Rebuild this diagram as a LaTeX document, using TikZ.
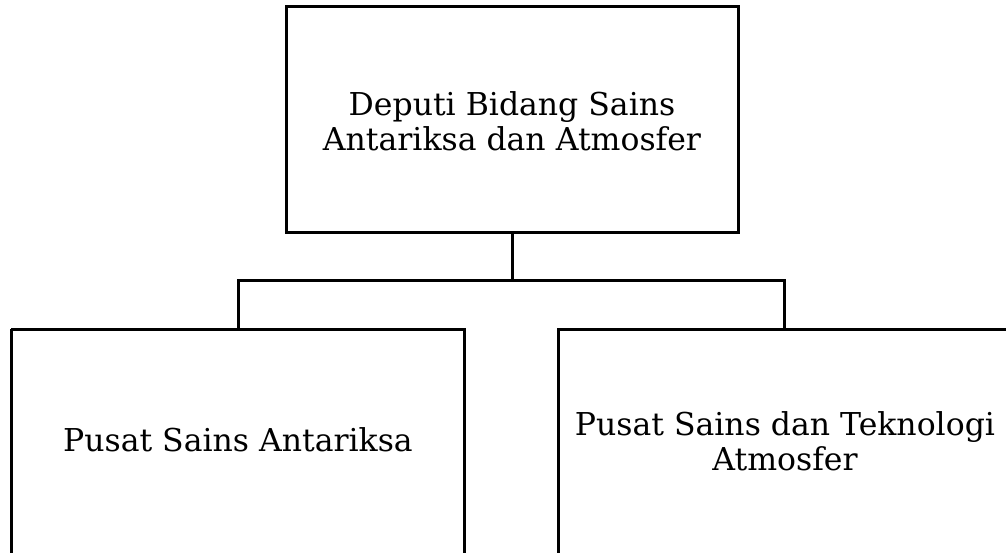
\documentclass[tikz,border=0pt]{standalone}
\usepackage{fontspec}
\setmainfont{DejaVu Serif}
\begin{document}
\begin{tikzpicture}[x=1pt,y=-1pt,
  lbl/.style={align=center,font=\fontsize{31.5}{35}\selectfont,inner sep=0pt},
  conn/.style={draw=black,line width=3pt}]
\useasboundingbox (0,0) rectangle (1006,553);
\clip (0,0) rectangle (1006,553);
\draw[conn] (286,7) rectangle (738,233);
\draw[conn] (11,329) -- (464,329) -- (464,560);
\draw[conn] (11,329) -- (11,560);
\draw[conn] (558,560) -- (558,329) -- (1010,329);
\coordinate (topb) at (512,233);
\coordinate (bar) at (512,280);
\coordinate (lt) at (238,329);
\coordinate (rt) at (784,329);
\draw[conn] (topb) -- (bar);
\draw[conn] (lt) -- (238,280) -- (784,280) -- (rt);
\node[lbl] (t) at (512,121) {Deputi Bidang Sains\\Antariksa dan Atmosfer};
\node[lbl] (l) at (238,440) {Pusat Sains Antariksa};
\node[lbl] (r) at (785,441) {Pusat Sains dan Teknologi\\Atmosfer};
\end{tikzpicture}
\end{document}
